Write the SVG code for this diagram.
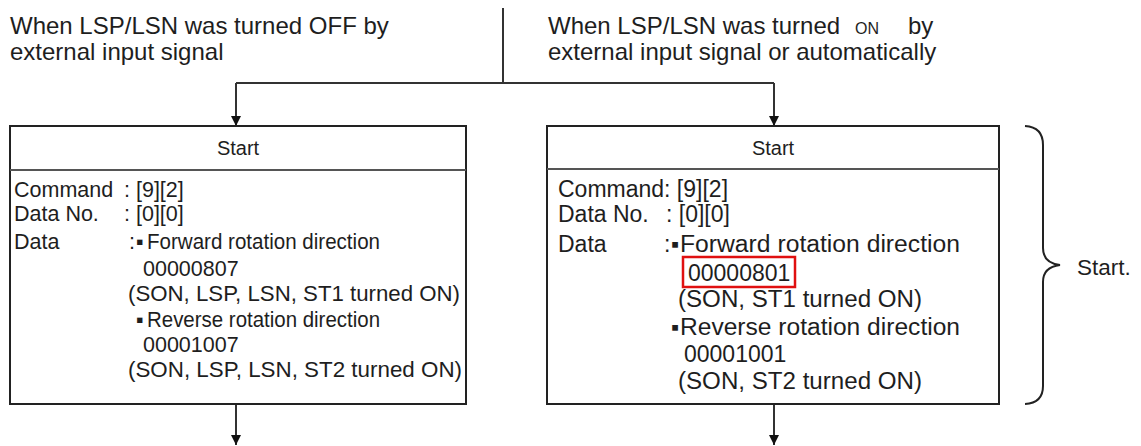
<svg xmlns="http://www.w3.org/2000/svg" width="1141" height="446" viewBox="0 0 1141 446">
<style>
text{font-family:"Liberation Sans",Arial,"DejaVu Sans",sans-serif;fill:#1e1e1e}
.h{font-size:24px}
.on{font-size:16px}
.l{font-size:21.5px}
.r{font-size:23px}
.st{font-size:20px;text-anchor:middle}
.box{fill:#fff;stroke:#222;stroke-width:2}
.div{stroke:#555;stroke-width:2}
.con{fill:none;stroke:#333;stroke-width:2}
.br{fill:none;stroke:#222;stroke-width:2}
</style>
<defs>
<marker id="ah" markerWidth="10" markerHeight="10" refX="10" refY="5" orient="auto" markerUnits="userSpaceOnUse">
<path d="M0,0 L10,5 L0,10 Z" fill="#111"/>
</marker>
</defs>
<rect width="1141" height="446" fill="#fff"/>

<g id="heading-off">
<text class="h" x="10" y="34">When LSP/LSN was turned OFF by</text>
<text class="h" x="10" y="60">external input signal</text>
</g>
<g id="heading-on">
<text class="h" x="548" y="34">When LSP/LSN was turned</text>
<text class="on" x="855" y="34">ON</text>
<text class="h" x="908" y="34">by</text>
<text class="h" x="548" y="60">external input signal or automatically</text>
</g>

<g id="connectors">
<line class="con" x1="503" y1="8" x2="503" y2="83"/>
<line class="con" x1="236" y1="83" x2="774" y2="83"/>
<line class="con" x1="236" y1="83" x2="236" y2="126" marker-end="url(#ah)"/>
<line class="con" x1="774" y1="83" x2="774" y2="126" marker-end="url(#ah)"/>
<line class="con" x1="236" y1="404" x2="236" y2="445" marker-end="url(#ah)"/>
<line class="con" x1="774" y1="404" x2="774" y2="445" marker-end="url(#ah)"/>
</g>

<g id="box-left">
<rect class="box" x="10" y="126" width="456" height="278"/>
<line class="div" x1="10" y1="170" x2="466" y2="170"/>
<text class="st" x="238" y="155">Start</text>
<text class="l" x="14" y="197">Command</text>
<text class="l" x="124" y="197">: [9][2]</text>
<text class="l" x="14" y="221">Data No.</text>
<text class="l" x="124" y="221">: [0][0]</text>
<text class="l" x="14" y="249">Data</text>
<text class="l" x="129" y="249">:</text>
<text class="l" x="136" y="249" font-size="14">▪</text>
<text class="l" x="147" y="249" textLength="233" lengthAdjust="spacingAndGlyphs">Forward rotation direction</text>
<text class="l" x="143" y="276">00000807</text>
<text class="l" x="128" y="301" textLength="332" lengthAdjust="spacingAndGlyphs">(SON, LSP, LSN, ST1 turned ON)</text>
<text class="l" x="136" y="327" font-size="14">▪</text>
<text class="l" x="147" y="327" textLength="233" lengthAdjust="spacingAndGlyphs">Reverse rotation direction</text>
<text class="l" x="143" y="352">00001007</text>
<text class="l" x="128" y="377" textLength="334" lengthAdjust="spacingAndGlyphs">(SON, LSP, LSN, ST2 turned ON)</text>
</g>

<g id="box-right">
<rect class="box" x="547" y="126" width="452" height="278"/>
<line class="div" x1="547" y1="169" x2="999" y2="169"/>
<text class="st" x="773" y="155" font-size="21">Start</text>
<text class="r" x="558" y="197">Command: [9][2]</text>
<text class="r" x="558" y="222">Data No.</text>
<text class="r" x="666" y="222">: [0][0]</text>
<text class="r" x="558" y="252">Data</text>
<text class="r" x="664" y="252">:</text>
<text class="r" x="671" y="252" font-size="15">▪</text>
<text class="r" x="680" y="252" textLength="280" lengthAdjust="spacingAndGlyphs">Forward rotation direction</text>
<rect x="683" y="257" width="112" height="30" fill="none" stroke="#e01010" stroke-width="2.5"/>
<text class="r" x="688" y="281">00000801</text>
<text class="r" x="678" y="307" textLength="244" lengthAdjust="spacingAndGlyphs">(SON, ST1 turned ON)</text>
<text class="r" x="671" y="335" font-size="15">▪</text>
<text class="r" x="680" y="335" textLength="280" lengthAdjust="spacingAndGlyphs">Reverse rotation direction</text>
<text class="r" x="684" y="362">00001001</text>
<text class="r" x="678" y="389" textLength="244" lengthAdjust="spacingAndGlyphs">(SON, ST2 turned ON)</text>
</g>

<g id="brace-start">
<path class="br" d="M1025,126 Q1043,127 1043,145 L1043,248 Q1043,263 1060,265 Q1043,267 1043,282 L1043,386 Q1043,403 1025,404"/>
<text x="1077" y="275" font-size="22.5">Start.</text>
</g>
</svg>
